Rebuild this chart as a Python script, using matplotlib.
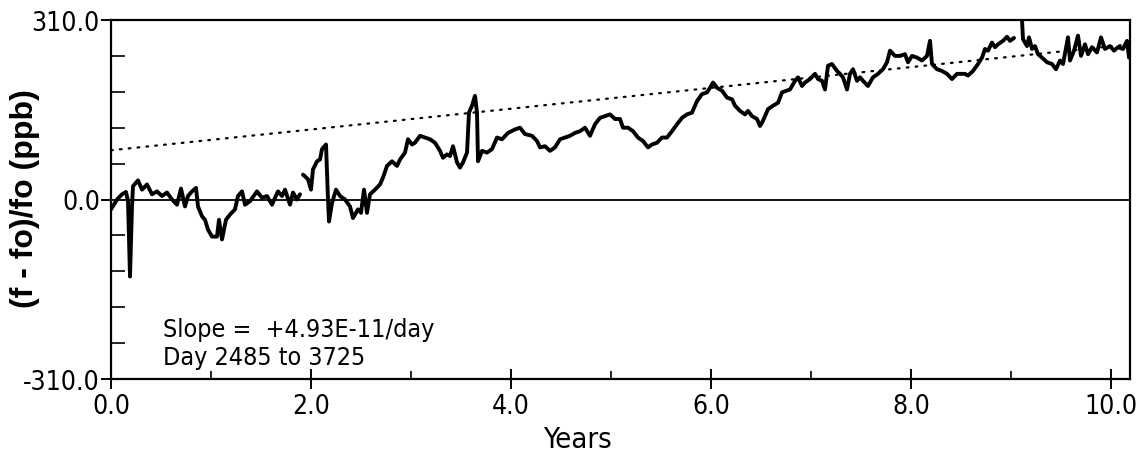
import numpy as np
import matplotlib
matplotlib.use("Agg")
import matplotlib.pyplot as plt
from matplotlib.ticker import FixedLocator

# ---- data ----
years = [0.00, 0.06, 0.11, 0.15, 0.17, 0.19, 0.21, 0.22, 0.27, 0.31, 0.36, 0.41, 0.46,
         0.51, 0.56, 0.61, 0.66, 0.70, 0.74, 0.77, 0.81, 0.85, 0.87, 0.91, 0.94, 0.97,
         1.01, 1.06, 1.08, 1.11, 1.15, 1.19, 1.24, 1.27, 1.31, 1.34, 1.39, 1.46, 1.51,
         1.56, 1.61, 1.64, 1.67, 1.71, 1.74, 1.79, 1.82, 1.86, 1.89, 1.905,
         1.92, 1.97, 2.00, 2.02, 2.06, 2.09, 2.11, 2.15, 2.17, 2.18, 2.21, 2.25, 2.29,
         2.34, 2.39, 2.42, 2.47, 2.50, 2.53, 2.56, 2.59, 2.64, 2.69, 2.72, 2.76, 2.81,
         2.86, 2.89, 2.94, 2.97, 3.01, 3.04, 3.09, 3.14, 3.19, 3.24, 3.29, 3.32, 3.36,
         3.39, 3.42, 3.46, 3.49, 3.52, 3.56, 3.58, 3.61, 3.64, 3.66, 3.67, 3.71, 3.76,
         3.81, 3.86, 3.91, 3.97, 4.04, 4.09, 4.14, 4.21, 4.26, 4.29, 4.34, 4.39, 4.44,
         4.49, 4.54, 4.59, 4.64, 4.69, 4.74, 4.79, 4.84, 4.89, 4.94, 4.99, 5.04, 5.09,
         5.12, 5.17, 5.22, 5.27, 5.32, 5.37, 5.41, 5.46, 5.51, 5.56, 5.61, 5.66, 5.71,
         5.76, 5.81, 5.86, 5.91, 5.96, 5.99, 6.02, 6.06, 6.11, 6.16, 6.21, 6.24, 6.29,
         6.34, 6.37, 6.41, 6.46, 6.49, 6.52, 6.57, 6.62, 6.67, 6.71, 6.76, 6.79, 6.84,
         6.87, 6.91, 6.94, 6.99, 7.04, 7.07, 7.11, 7.14, 7.17, 7.21, 7.26, 7.29, 7.32,
         7.36, 7.39, 7.42, 7.46, 7.49, 7.52, 7.57, 7.62, 7.67, 7.72, 7.76, 7.79, 7.84,
         7.89, 7.94, 7.97, 8.01, 8.06, 8.11, 8.16, 8.19, 8.21, 8.26, 8.31, 8.36, 8.41,
         8.46, 8.49, 8.54, 8.57, 8.62, 8.67, 8.71, 8.74, 8.77, 8.81, 8.84, 8.87, 8.92,
         8.96, 8.99, 9.03, 9.07,
         9.11, 9.12, 9.16, 9.18, 9.21, 9.24, 9.27, 9.31, 9.36, 9.41, 9.45, 9.49, 9.52,
         9.57, 9.59, 9.63, 9.67, 9.70, 9.74, 9.77, 9.81, 9.86, 9.90, 9.94, 9.99, 10.03,
         10.07, 10.12, 10.16, 10.18]
ppb = [-17, 0, 9, 13, -3, -133, -12, 23, 33, 17, 26, 9, 14,
       6, 12, 0, -9, 19, -12, 6, 14, 20, -12, -29, -35, -52,
       -64, -64, -35, -69, -35, -26, -17, 6, 14, -9, -3, 14, 3,
       6, -9, 3, 14, 6, 17, -9, 12, 0, 9, np.nan,
       43, 35, 17, 52, 66, 69, 87, 95, 0, -38, -6, 17, 6,
       0, -12, -32, -17, -23, 17, -23, 9, 17, 26, 38, 58, 66,
       58, 69, 81, 104, 95, 98, 110, 107, 104, 98, 84, 72, 78,
       75, 92, 64, 55, 64, 81, 150, 162, 179, 150, 66, 84, 81,
       87, 107, 104, 115, 121, 124, 113, 110, 101, 90, 92, 84, 90,
       104, 107, 110, 115, 118, 124, 110, 130, 141, 144, 147, 139, 139,
       124, 124, 118, 107, 101, 90, 95, 98, 107, 107, 118, 130, 141,
       147, 150, 170, 182, 185, 193, 202, 193, 188, 176, 173, 162, 153,
       147, 153, 144, 139, 127, 136, 156, 162, 167, 185, 188, 190, 205,
       211, 196, 202, 208, 217, 208, 205, 190, 231, 234, 222, 217, 211,
       190, 217, 225, 205, 211, 205, 196, 211, 217, 225, 237, 257, 248,
       248, 251, 237, 248, 245, 240, 248, 274, 234, 225, 222, 217, 208,
       217, 217, 217, 214, 222, 234, 245, 260, 257, 271, 263, 268, 274,
       281, 274, 279, np.nan,
       310, 277, 265, 280, 260, 265, 251, 245, 237, 234, 225, 240, 234,
       280, 240, 257, 283, 248, 268, 251, 263, 254, 280, 260, 265, 257,
       263, 260, 274, 245]

trend_years = [0.0, 10.19]
trend_ppb = [85, 268]

x_ticks = [0, 2, 4, 6, 8, 10]
x_ticklabels = ["0.0", "2.0", "4.0", "6.0", "8.0", "10.0"]
y_ticks = [-310, 0, 310]
y_ticklabels = ["-310.0", "0.0", "310.0"]

NARROW = dict(family="DejaVu Sans", stretch="condensed")
BOLD = dict(family=["Liberation Sans", "DejaVu Sans"], fontweight="bold")

fig = plt.figure(figsize=(11.4, 4.6), dpi=100)
ax = fig.add_axes([111 / 1140, 1 - 380 / 460, (1130 - 111) / 1140, (380 - 21) / 460])

ax.plot(years, ppb, color="black", lw=2.8, solid_joinstyle="round", solid_capstyle="round")
ax.plot(trend_years, trend_ppb, color="black", lw=1.6, linestyle=(0, (0.8, 3.2)),
        dash_capstyle="round")
ax.axhline(0, color="black", lw=1.3)

ax.set_xlim(0, 10.19)
ax.set_ylim(-310, 310)

for s in ax.spines.values():
    s.set_linewidth(1.6)

ax.set_xticks(x_ticks)
ax.set_xticklabels(x_ticklabels, fontsize=19, **NARROW)
ax.xaxis.set_minor_locator(FixedLocator([1, 3, 5, 7, 9]))
ax.tick_params(axis="x", which="major", direction="inout", length=14, width=1.4, pad=3)
ax.tick_params(axis="x", which="minor", direction="in", length=6, width=1.2)

ax.set_yticks(y_ticks)
ax.set_yticklabels(y_ticklabels, fontsize=19, **NARROW)
ax.yaxis.set_minor_locator(FixedLocator([-248, -186, -124, -62, 62, 124, 186, 248]))
ax.tick_params(axis="y", which="major", direction="out", length=7, width=1.4, pad=1)
ax.tick_params(axis="y", which="minor", direction="in", length=10, width=1.2)

ax.text(0.52, -236, "Slope =  +4.93E-11/day", fontsize=18, ha="left", va="baseline",
        **NARROW)
ax.text(0.52, -284, "Day 2485 to 3725", fontsize=18, ha="left", va="baseline",
        **NARROW)

fig.text(577 / 1140, 1 - 440 / 460, "Years", fontsize=21, ha="center", va="center",
         **NARROW)
fig.text(25 / 1140, 1 - 199 / 460, "(f - fo)/fo (ppb)", fontsize=23, rotation=90,
         ha="center", va="center", **BOLD)

fig.savefig("out.png", dpi=100)
